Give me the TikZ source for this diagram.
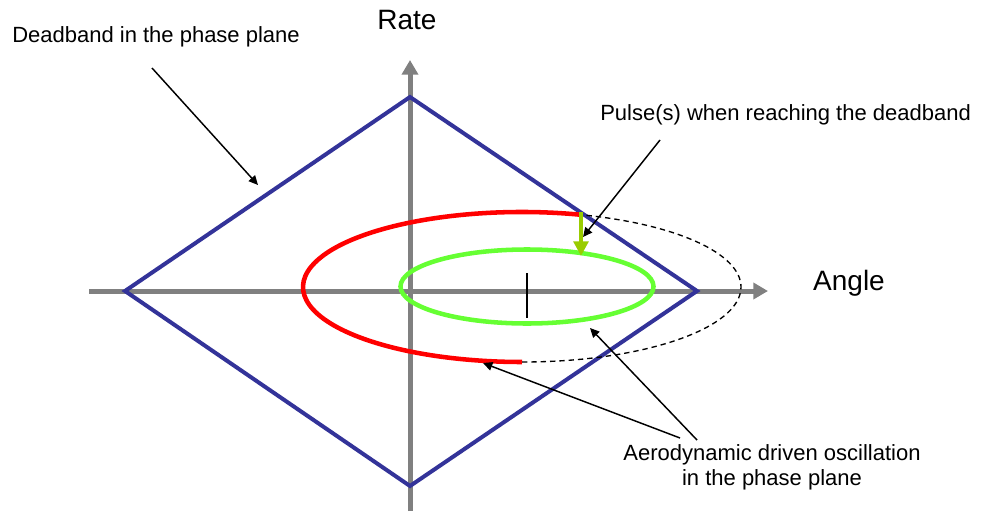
\documentclass[tikz,border=0pt]{standalone}
\usepackage{fontspec}
\setmainfont{Liberation Sans}
\usetikzlibrary{arrows.meta}
\definecolor{dbblue}{RGB}{51,51,153}
\definecolor{axgray}{RGB}{128,128,128}
\definecolor{oscgreen}{RGB}{102,255,51}
\definecolor{pulsegreen}{RGB}{153,204,0}
\begin{document}
\begin{tikzpicture}[x=0.75pt,y=-0.75pt,
  axisline/.style={draw=axgray,line width=3.75pt,-{Triangle[length=11pt,width=12pt]}},
  deadband/.style={draw=dbblue,line width=3pt,line join=miter},
  redosc/.style={draw=red,line width=3.4pt},
  greenosc/.style={draw=oscgreen,line width=3.4pt},
  pointer/.style={draw=black,line width=1.1pt,-{Triangle[length=7pt,width=6.5pt]}},
  smalllabel/.style={font=\fontsize{16.5}{19}\selectfont,inner sep=0pt},
  biglabel/.style={font=\fontsize{21}{24}\selectfont,inner sep=0pt}]
\useasboundingbox (0,0) rectangle (986,511);
% axes
\coordinate (xl) at (89,291);
\coordinate (xr) at (768,291);
\coordinate (yb) at (410,511);
\coordinate (yt) at (410,60);
\draw[axisline] (xl) -- (xr);
\draw[axisline] (yb) -- (yt);
% deadband diamond
\coordinate (dl) at (125,291);
\coordinate (dt) at (410,97);
\coordinate (dr) at (697,291);
\coordinate (dbm) at (410,486);
\draw[deadband] (dl) -- (dt) -- (dr) -- (dbm) -- cycle;
% red oscillation and dashed continuation
\coordinate (rc) at (522,287);
\draw[redosc] ([shift={(-74:219 and 75)}]rc) arc[start angle=-74,end angle=-270,x radius=219,y radius=75];
\draw[black,line width=1pt,dash pattern=on 4pt off 3pt] ([shift={(90:219 and 75)}]rc) arc[start angle=90,end angle=-74,x radius=219,y radius=75];
% green oscillation
\coordinate (gc) at (527,286.5);
\draw[greenosc] (gc) ellipse[x radius=126.5,y radius=37];
% centre tick
\coordinate (tk1) at (527,273);
\coordinate (tk2) at (527,318);
\draw[black,line width=1pt] (tk1) -- (tk2);
% pulse arrow
\coordinate (p1) at (581,212);
\coordinate (p2) at (581,256);
\draw[draw=pulsegreen,line width=3pt,-{Triangle[length=11pt,width=11pt]}] (p1) -- (p2);
% labels
\node[biglabel] (rate) at (407,20) {Rate};
\node[biglabel] (angle) at (849,283) {Angle};
\node[smalllabel,anchor=west] (db) at (12,37) {Deadband in the phase plane};
\node[smalllabel,anchor=west] (pulse) at (600,115) {Pulse(s) when reaching the deadband};
\node[smalllabel,align=center] (aero) at (772,467) {Aerodynamic driven oscillation\\in the phase plane};
% pointers
\coordinate (dbs) at (152,68);
\coordinate (dbt) at (258,185);
\draw[pointer] (dbs) -- (dbt);
\coordinate (ps) at (660,140);
\coordinate (pt) at (583,237);
\draw[pointer] (ps) -- (pt);
\coordinate (as1) at (697,440);
\coordinate (at1) at (590,328);
\draw[pointer] (as1) -- (at1);
\coordinate (as2) at (680,438);
\coordinate (at2) at (483,363);
\draw[pointer] (as2) -- (at2);
\end{tikzpicture}
\end{document}
